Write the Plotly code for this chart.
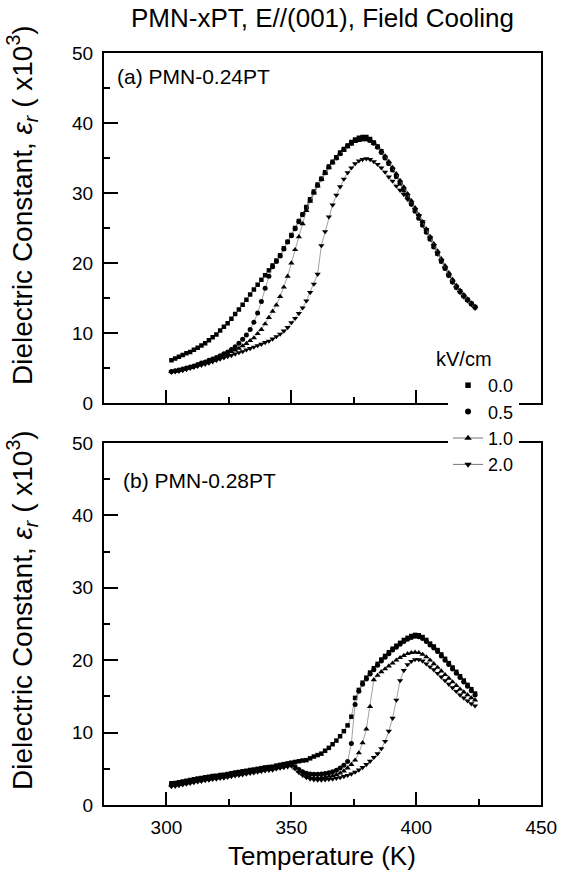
import plotly.graph_objects as go

# Temperature grid (K), shared by both panels
temperature = [302.0, 303.5, 305.0, 306.5, 308.0, 309.5, 311.0, 312.5, 314.0, 315.5,
               317.0, 318.5, 320.0, 321.5, 323.0, 324.5, 326.0, 327.5, 329.0, 330.5,
               332.0, 333.5, 335.0, 336.5, 338.0, 339.5, 341.0, 342.5, 344.0, 345.5,
               347.0, 348.5, 350.0, 351.5, 353.0, 354.5, 356.0, 357.5, 359.0, 360.5,
               362.0, 363.5, 365.0, 366.5, 368.0, 369.5, 371.0, 372.5, 374.0, 375.5,
               377.0, 378.5, 380.0, 381.5, 383.0, 384.5, 386.0, 387.5, 389.0, 390.5,
               392.0, 393.5, 395.0, 396.5, 398.0, 399.5, 401.0, 402.5, 404.0, 405.5,
               407.0, 408.5, 410.0, 411.5, 413.0, 414.5, 416.0, 417.5, 419.0, 420.5,
               422.0, 423.5]

field_labels = ["0.0", "0.5", "1.0", "2.0"]

# (a) PMN-0.24PT, dielectric constant (x10^3)
a_00 = [6.1, 6.35, 6.6, 6.85, 7.1, 7.3, 7.6, 7.9, 8.2, 8.55,
        8.95, 9.4, 9.8, 10.35, 10.9, 11.4, 12.05, 12.7, 13.35, 14.05,
        14.75, 15.5, 16.2, 16.9, 17.6, 18.25, 18.95, 19.65, 20.35, 21.1,
        22.1, 23.05, 24.0, 25.0, 26.0, 26.95, 28.0, 29.1, 30.2, 31.2,
        32.05, 32.95, 33.8, 34.45, 35.1, 35.8, 36.3, 36.8, 37.3, 37.65,
        37.9, 38.0, 38.0, 37.7, 37.2, 36.65, 35.95, 35.1, 34.25, 33.35,
        32.4, 31.45, 30.5, 29.5, 28.5, 27.55, 26.5, 25.5, 24.5, 23.45,
        22.4, 21.35, 20.3, 19.3, 18.3, 17.35, 16.6, 15.95, 15.3, 14.75,
        14.2, 13.7]
a_05 = [4.5, 4.6, 4.7, 4.85, 5.0, 5.15, 5.3, 5.5, 5.7, 5.85,
        6.1, 6.3, 6.5, 6.75, 7.05, 7.3, 7.65, 8.05, 8.55, 9.1,
        9.7, 10.5, 11.55, 12.85, 14.5, 16.4, 18.1, 19.45, 20.2, 21.0,
        22.0, 23.0, 23.9, 24.9, 25.9, 26.9, 27.9, 29.0, 30.1, 31.1,
        32.0, 32.9, 33.7, 34.4, 35.0, 35.6, 36.2, 36.7, 37.1, 37.5,
        37.7, 37.8, 37.8, 37.5, 37.1, 36.55, 35.8, 35.0, 34.2, 33.3,
        32.35, 31.4, 30.4, 29.4, 28.4, 27.4, 26.4, 25.4, 24.4, 23.4,
        22.3, 21.3, 20.2, 19.2, 18.2, 17.3, 16.5, 15.9, 15.3, 14.7,
        14.2, 13.7]
a_10 = [4.5, 4.55, 4.65, 4.8, 4.9, 5.05, 5.2, 5.4, 5.6, 5.75,
        5.95, 6.1, 6.3, 6.55, 6.8, 7.0, 7.3, 7.55, 7.8, 8.15,
        8.5, 8.9, 9.3, 9.9, 10.5, 11.3, 12.2, 13.1, 14.0, 15.2,
        16.55, 18.1, 20.0, 21.9, 23.75, 25.6, 27.5, 28.8, 30.0, 31.0,
        31.9, 32.8, 33.6, 34.3, 35.0, 35.6, 36.1, 36.6, 37.0, 37.35,
        37.5, 37.6, 37.6, 37.45, 37.1, 36.6, 36.0, 35.3, 34.5, 33.65,
        32.75, 31.8, 30.85, 29.9, 28.9, 27.9, 26.9, 25.9, 24.85, 23.8,
        22.75, 21.7, 20.6, 19.6, 18.6, 17.65, 16.8, 16.1, 15.45, 14.85,
        14.3, 13.8]
a_20 = [4.4, 4.45, 4.55, 4.65, 4.8, 4.95, 5.1, 5.25, 5.4, 5.55,
        5.7, 5.9, 6.1, 6.3, 6.45, 6.65, 6.8, 7.0, 7.2, 7.35,
        7.6, 7.8, 8.0, 8.2, 8.4, 8.65, 8.85, 9.15, 9.5, 9.85,
        10.3, 10.8, 11.5, 12.1, 12.8, 13.6, 14.6, 15.8, 17.0, 18.4,
        22.5, 24.5, 26.6, 28.3, 29.7, 30.9, 32.0, 32.9, 33.6, 34.2,
        34.6, 34.8, 34.9, 34.8, 34.5, 34.1, 33.6, 33.0, 32.3, 31.7,
        31.0, 30.4, 29.8, 29.1, 28.4, 27.6, 26.8, 25.9, 24.8, 23.6,
        22.5, 21.4, 20.3, 19.2, 18.2, 17.25, 16.45, 15.8, 15.15, 14.6,
        14.05, 13.55]

# (b) PMN-0.28PT, dielectric constant (x10^3)
b_00 = [3.0, 3.05, 3.15, 3.25, 3.35, 3.45, 3.55, 3.65, 3.75, 3.85,
        3.9, 4.0, 4.05, 4.15, 4.2, 4.3, 4.4, 4.5, 4.55, 4.65,
        4.75, 4.85, 4.9, 5.0, 5.1, 5.2, 5.25, 5.3, 5.45, 5.55,
        5.65, 5.75, 5.85, 5.95, 6.05, 6.15, 6.2, 6.45, 6.7, 6.9,
        7.1, 7.5, 7.9, 8.4, 8.9, 9.5, 10.2, 11.0, 12.2, 14.8,
        15.9, 16.9, 17.6, 18.3, 18.9, 19.5, 20.1, 20.6, 21.1, 21.6,
        22.0, 22.4, 22.8, 23.1, 23.35, 23.5, 23.45, 23.2, 22.8, 22.3,
        21.9, 21.4, 20.8, 20.2, 19.6, 19.0, 18.4, 17.8, 17.2, 16.6,
        16.0, 15.4]
b_05 = [2.8, 2.85, 2.95, 3.05, 3.15, 3.25, 3.35, 3.45, 3.55, 3.65,
        3.7, 3.8, 3.85, 3.95, 4.0, 4.1, 4.2, 4.3, 4.35, 4.45,
        4.55, 4.65, 4.7, 4.8, 4.9, 5.0, 5.05, 5.1, 5.25, 5.35,
        5.45, 5.55, 5.6, 5.3, 4.9, 4.6, 4.4, 4.3, 4.25, 4.25,
        4.3, 4.35, 4.45, 4.6, 4.8, 5.1, 5.5, 6.0, 8.5, 13.9,
        15.7, 16.7, 17.4, 18.1, 18.7, 19.3, 19.9, 20.4, 20.9, 21.4,
        21.8, 22.2, 22.6, 22.9, 23.15, 23.3, 23.25, 23.0, 22.6, 22.1,
        21.7, 21.2, 20.6, 20.0, 19.4, 18.8, 18.2, 17.6, 17.0, 16.4,
        15.8, 15.2]
b_10 = [2.7, 2.75, 2.85, 2.95, 3.05, 3.15, 3.25, 3.35, 3.45, 3.55,
        3.6, 3.7, 3.75, 3.85, 3.9, 4.0, 4.1, 4.2, 4.25, 4.35,
        4.45, 4.55, 4.6, 4.7, 4.8, 4.9, 4.95, 5.0, 5.15, 5.25,
        5.35, 5.45, 5.5, 5.1, 4.7, 4.3, 4.0, 3.8, 3.75, 3.75,
        3.8, 3.85, 3.95, 4.05, 4.2, 4.4, 4.7, 5.1, 5.6, 6.2,
        7.2, 8.6, 10.5, 13.6, 17.3, 17.9, 18.4, 18.8, 19.2, 19.6,
        20.0, 20.35, 20.65, 20.9, 21.05, 21.1, 21.05, 20.8, 20.45, 20.0,
        19.5, 19.0, 18.5, 18.0, 17.5, 17.0, 16.5, 16.0, 15.6, 15.2,
        14.8, 14.5]
b_20 = [2.55, 2.6, 2.7, 2.8, 2.9, 3.0, 3.1, 3.2, 3.3, 3.4,
        3.45, 3.55, 3.6, 3.7, 3.75, 3.85, 3.95, 4.05, 4.1, 4.2,
        4.3, 4.4, 4.45, 4.55, 4.65, 4.75, 4.8, 4.85, 5.0, 5.1,
        5.2, 5.3, 5.4, 5.0, 4.5, 4.1, 3.8, 3.6, 3.5, 3.45,
        3.45, 3.5, 3.55, 3.6, 3.7, 3.8, 3.95, 4.1, 4.3, 4.55,
        4.85, 5.2, 5.6, 6.05, 6.6, 7.1, 7.8, 8.8, 10.2, 12.0,
        14.5, 17.2, 18.6, 19.4, 19.85, 20.1, 20.1, 19.9, 19.5, 19.1,
        18.7, 18.2, 17.7, 17.2, 16.7, 16.2, 15.7, 15.2, 14.8, 14.4,
        14.0, 13.7]

x_ticks = [300, 350, 400, 450]
y_ticks = [0, 10, 20, 30, 40, 50]

FONT = "Liberation Sans, Arial, sans-serif"
symbols = ["square", "circle", "triangle-up", "triangle-down"]
sizes = [4.5, 5, 5.5, 5.5]

fig = go.Figure()

panels = [([a_00, a_05, a_10, a_20], "x", "y"), ([b_00, b_05, b_10, b_20], "x2", "y2")]
for series, xa, ya in panels:
    for vals, sym, sz in zip(series, symbols, sizes):
        fig.add_trace(go.Scatter(
            x=temperature, y=vals, xaxis=xa, yaxis=ya, mode="lines+markers",
            line=dict(color="#777777", width=0.7),
            marker=dict(symbol=sym, size=sz, color="black", line=dict(width=0)),
            showlegend=False, hoverinfo="skip"))

# legend entries
for lab, sym, sz in zip(field_labels, symbols, sizes):
    mode = "markers" if lab in ("0.0", "0.5") else "lines+markers"
    fig.add_trace(go.Scatter(
        x=[600], y=[-100], xaxis="x", yaxis="y", mode=mode, name=lab,
        line=dict(color="#777777", width=1),
        marker=dict(symbol=sym, size=sz + 1, color="black", line=dict(width=0)),
        showlegend=True))

x_dom = [0.184, 0.958]
common_x = dict(range=[275, 450], tickvals=x_ticks, ticks="inside", ticklen=13, tickwidth=1.5,
                tickcolor="black", showline=True, linewidth=2, linecolor="black", mirror=True,
                showgrid=False, zeroline=False, automargin=False,
                minor=dict(dtick=25, tick0=275, ticks="inside", ticklen=6, tickwidth=1.5, tickcolor="black"),
                tickfont=dict(family=FONT, size=19, color="black"))
common_y = dict(range=[0, 50], tickvals=y_ticks, ticks="inside", ticklen=14, tickwidth=1.5,
                tickcolor="black", showline=True, linewidth=2, linecolor="black", mirror=True,
                showgrid=False, zeroline=False, automargin=False,
                minor=dict(dtick=5, tick0=0, ticks="inside", ticklen=6, tickwidth=1.5, tickcolor="black"),
                tickfont=dict(family=FONT, size=19, color="black"), ticklabelstandoff=5)

fig.update_layout(
    width=565, height=878,
    margin=dict(l=0, r=0, t=0, b=0, pad=0),
    paper_bgcolor="white", plot_bgcolor="white",
    font=dict(family=FONT, color="black"),
    xaxis=dict(domain=x_dom, anchor="y", showticklabels=False, **common_x),
    yaxis=dict(domain=[0.541, 0.9396], anchor="x", **common_y),
    xaxis2=dict(domain=x_dom, anchor="y2", showticklabels=True, ticklabelstandoff=4, **common_x),
    yaxis2=dict(domain=[0.0831, 0.4954], anchor="x2", **common_y),
    legend=dict(x=0.793, y=0.582, xanchor="left", yanchor="top",
                bgcolor="white", borderwidth=0,
                font=dict(family=FONT, size=18, color="black"),
                tracegroupgap=0),
)

ann = []
ann.append(dict(text="PMN-xPT, E//(001), Field Cooling", x=0.570, y=0.979, xref="paper", yref="paper",
                xanchor="center", yanchor="middle", showarrow=False,
                font=dict(family=FONT, size=26, color="black")))
ann.append(dict(text="Temperature (K)", x=0.570, y=0.025, xref="paper", yref="paper",
                xanchor="center", yanchor="middle", showarrow=False,
                font=dict(family=FONT, size=26, color="black")))
ann.append(dict(text="kV/cm", x=434 / 565, y=1 - 359 / 878, xref="paper", yref="paper",
                xanchor="left", yanchor="middle", showarrow=False,
                font=dict(family=FONT, size=20, color="black")))
ytitle = "Dielectric Constant, <i>ε</i><sub><i>r</i></sub> ( x10<sup>3</sup>)"
for yc in (1 - 205 / 878, 1 - 610 / 878):
    ann.append(dict(text=ytitle, x=0.039, y=yc, xref="paper", yref="paper", textangle=-90,
                    xanchor="center", yanchor="middle", showarrow=False,
                    font=dict(family=FONT, size=28, color="black")))
ann.append(dict(text="(a) PMN-0.24PT", x=115 / 565, y=1 - 77 / 878, xref="paper", yref="paper",
                xanchor="left", yanchor="middle", showarrow=False,
                font=dict(family=FONT, size=21, color="black")))
ann.append(dict(text="(b) PMN-0.28PT", x=121 / 565, y=1 - 480 / 878, xref="paper", yref="paper",
                xanchor="left", yanchor="middle", showarrow=False,
                font=dict(family=FONT, size=21, color="black")))
fig.update_layout(annotations=ann)

fig.write_html("out.html", config={"displayModeBar": False},
               post_script="document.body.style.margin='0';")
